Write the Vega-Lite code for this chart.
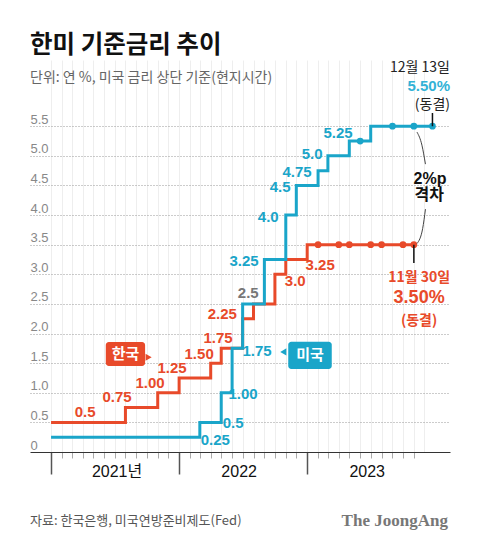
{
  "$schema": "https://vega.github.io/schema/vega-lite/v6.json",
  "width": 420,
  "height": 392,
  "autosize": {"type": "none"},
  "padding": {"left": 30, "top": 60, "right": 30, "bottom": 96},
  "background": "white",
  "config": {"view": {"stroke": null}},
  "title": {
    "text": "한미 기준금리 추이",
    "subtitle": "단위: 연 %, 미국 금리 상단 기준(현지시간)",
    "anchor": "start",
    "frame": "group",
    "font": "Noto Sans CJK KR",
    "fontSize": 24.5,
    "fontWeight": "bold",
    "color": "#111111",
    "subtitleFont": "Noto Sans CJK KR",
    "subtitleFontSize": 14,
    "subtitleColor": "#666666",
    "subtitlePadding": 13,
    "offset": -26
  },
  "datasets": {
    "rates": [
      {"s": "한국", "date": "2021/01/01", "v": 0.5, "hold": false},
      {"s": "한국", "date": "2021/08/01", "v": 0.75, "hold": false},
      {"s": "한국", "date": "2021/11/01", "v": 1.0, "hold": false},
      {"s": "한국", "date": "2022/01/01", "v": 1.25, "hold": false},
      {"s": "한국", "date": "2022/04/01", "v": 1.5, "hold": false},
      {"s": "한국", "date": "2022/05/01", "v": 1.75, "hold": false},
      {"s": "한국", "date": "2022/07/01", "v": 2.25, "hold": false},
      {"s": "한국", "date": "2022/08/01", "v": 2.5, "hold": false},
      {"s": "한국", "date": "2022/10/01", "v": 3.0, "hold": false},
      {"s": "한국", "date": "2022/11/01", "v": 3.25, "hold": false},
      {"s": "한국", "date": "2023/01/01", "v": 3.5, "hold": false},
      {"s": "한국", "date": "2023/02/01", "v": 3.5, "hold": true},
      {"s": "한국", "date": "2023/04/01", "v": 3.5, "hold": true},
      {"s": "한국", "date": "2023/05/01", "v": 3.5, "hold": true},
      {"s": "한국", "date": "2023/07/01", "v": 3.5, "hold": true},
      {"s": "한국", "date": "2023/08/01", "v": 3.5, "hold": true},
      {"s": "한국", "date": "2023/10/01", "v": 3.5, "hold": true},
      {"s": "한국", "date": "2023/11/01", "v": 3.5, "hold": true},
      {"s": "미국", "date": "2021/01/01", "v": 0.25, "hold": false},
      {"s": "미국", "date": "2022/03/01", "v": 0.5, "hold": false},
      {"s": "미국", "date": "2022/05/01", "v": 1.0, "hold": false},
      {"s": "미국", "date": "2022/06/01", "v": 1.75, "hold": false},
      {"s": "미국", "date": "2022/07/01", "v": 2.5, "hold": false},
      {"s": "미국", "date": "2022/09/01", "v": 3.25, "hold": false},
      {"s": "미국", "date": "2022/11/01", "v": 4.0, "hold": false},
      {"s": "미국", "date": "2022/12/01", "v": 4.5, "hold": false},
      {"s": "미국", "date": "2023/02/01", "v": 4.75, "hold": false},
      {"s": "미국", "date": "2023/03/01", "v": 5.0, "hold": false},
      {"s": "미국", "date": "2023/05/01", "v": 5.25, "hold": false},
      {"s": "미국", "date": "2023/06/01", "v": 5.25, "hold": true},
      {"s": "미국", "date": "2023/07/01", "v": 5.5, "hold": false},
      {"s": "미국", "date": "2023/09/01", "v": 5.5, "hold": true},
      {"s": "미국", "date": "2023/11/01", "v": 5.5, "hold": true},
      {"s": "미국", "date": "2023/12/24", "v": 5.5, "hold": true}
    ],
    "valueLabels": [
      {"s": "한국", "t": "0.5", "date": "2021/04/08", "v": 0.68},
      {"s": "한국", "t": "0.75", "date": "2021/07/08", "v": 0.93},
      {"s": "한국", "t": "1.00", "date": "2021/10/10", "v": 1.165},
      {"s": "한국", "t": "1.25", "date": "2021/12/12", "v": 1.418},
      {"s": "한국", "t": "1.50", "date": "2022/02/27", "v": 1.655},
      {"s": "한국", "t": "1.75", "date": "2022/04/22", "v": 1.925},
      {"s": "한국", "t": "2.25", "date": "2022/05/04", "v": 2.33},
      {"s": "한국", "t": "3.0", "date": "2022/11/28", "v": 2.887},
      {"s": "한국", "t": "3.25", "date": "2023/02/07", "v": 3.157},
      {"s": "공통", "t": "2.5", "date": "2022/07/17", "v": 2.684},
      {"s": "미국", "t": "0.25", "date": "2022/04/14", "v": 0.203},
      {"s": "미국", "t": "0.5", "date": "2022/06/04", "v": 0.49},
      {"s": "미국", "t": "1.00", "date": "2022/07/02", "v": 0.98},
      {"s": "미국", "t": "1.75", "date": "2022/08/11", "v": 1.705},
      {"s": "미국", "t": "3.25", "date": "2022/07/05", "v": 3.225},
      {"s": "미국", "t": "4.0", "date": "2022/09/12", "v": 3.968},
      {"s": "미국", "t": "4.5", "date": "2022/10/16", "v": 4.474},
      {"s": "미국", "t": "4.75", "date": "2022/12/03", "v": 4.727},
      {"s": "미국", "t": "5.0", "date": "2023/01/15", "v": 5.031},
      {"s": "미국", "t": "5.25", "date": "2023/03/30", "v": 5.386}
    ]
  },
  "encoding": {
    "x": {
      "field": "date",
      "type": "temporal",
      "scale": {"domain": [{"year": 2020, "month": 11, "date": 2}, {"year": 2024, "month": 2, "date": 12}]},
      "axis": {
        "title": null,
        "tickCount": {"interval": "month", "step": 1},
        "domainColor": "#333333",
        "domainWidth": 1,
        "tickColor": {"condition": {"test": "month(datum.value) == 0", "value": "#555555"}, "value": "#aaaaaa"},
        "tickSize": {"condition": {"test": "month(datum.value) == 0", "value": 22}, "value": 6},
        "tickWidth": {"condition": {"test": "month(datum.value) == 0", "value": 1.5}, "value": 1},
        "tickOpacity": {"condition": {"test": "datum.value < datetime(2021,0,1) || datum.value > datetime(2023,10,15)", "value": 0}, "value": 1},
        "grid": true,
        "gridColor": "#eeeeee",
        "gridOpacity": {"condition": {"test": "datum.value < datetime(2021,0,1) || datum.value > datetime(2023,11,15)", "value": 0}, "value": 1},
        "labelExpr": "month(datum.value) == 6 ? (year(datum.value) == 2021 ? '2021년' : '' + year(datum.value)) : ''",
        "labelFont": "Liberation Sans, Noto Sans CJK KR",
        "labelFontSize": 16,
        "labelColor": "#111111",
        "labelPadding": 5,
        "labelOffset": {"condition": {"test": "year(datum.value) == 2021", "value": 2}, "value": -4},
        "labelOverlap": false,
        "labelFlush": false,
        "labelBound": false
      }
    },
    "y": {
      "field": "v",
      "type": "quantitative",
      "scale": {"domain": [0, 6.618], "nice": false, "zero": false},
      "axis": {
        "title": null,
        "values": [0, 0.5, 1, 1.5, 2, 2.5, 3, 3.5, 4, 4.5, 5, 5.5],
        "domain": false,
        "ticks": false,
        "tickSize": 0,
        "labelAlign": "left",
        "labelBaseline": "alphabetic",
        "labelPadding": 0,
        "labelOffset": -3,
        "labelColor": "#888888",
        "labelFont": "Liberation Sans",
        "labelFontSize": 13,
        "labelExpr": "datum.value == 0 ? '0' : format(datum.value, '.1f')",
        "labelOverlap": false,
        "labelFlush": false,
        "grid": true,
        "gridDash": [1, 2],
        "gridColor": "#999999",
        "gridOpacity": {"condition": {"test": "datum.value == 0", "value": 0}, "value": 1}
      }
    }
  },
  "layer": [
    {
      "data": {"name": "rates"},
      "mark": {"type": "line", "interpolate": "step-after", "strokeWidth": 3},
      "encoding": {
        "color": {"field": "s", "type": "nominal", "scale": {"domain": ["한국", "미국", "공통"], "range": ["#e84a2a", "#1aa5c9", "#777777"]}, "legend": null}
      }
    },
    {
      "data": {"name": "rates"},
      "transform": [{"filter": "datum.hold"}],
      "mark": {"type": "point", "filled": true, "opacity": 1, "size": 45},
      "encoding": {
        "color": {"field": "s", "type": "nominal", "scale": {"domain": ["한국", "미국", "공통"], "range": ["#e84a2a", "#1aa5c9", "#777777"]}, "legend": null}
      }
    },
    {
      "data": {"name": "valueLabels"},
      "mark": {"type": "text", "font": "Liberation Sans", "fontSize": 15, "fontWeight": "bold", "align": "center", "baseline": "middle"},
      "encoding": {
        "text": {"field": "t"},
        "color": {"field": "s", "type": "nominal", "scale": {"domain": ["한국", "미국", "공통"], "range": ["#e84a2a", "#1aa5c9", "#777777"]}, "legend": null}
      }
    },
    {
      "data": {"values": [
        {"s": "한국", "date": "2021/06/06", "date2": "2021/09/26", "v": 1.452, "v2": 1.857},
        {"s": "미국", "date": "2022/11/08", "date2": "2023/03/12", "v": 1.401, "v2": 1.862}
      ]},
      "mark": {"type": "rect", "cornerRadius": 3},
      "encoding": {
        "x2": {"field": "date2"},
        "y2": {"field": "v2"},
        "color": {"field": "s", "type": "nominal", "scale": {"domain": ["한국", "미국", "공통"], "range": ["#e84a2a", "#1aa5c9", "#777777"]}, "legend": null}
      }
    },
    {
      "data": {"values": [
        {"s": "한국", "date": "2021/10/06", "v": 1.60}
      ]},
      "mark": {"type": "point", "shape": "triangle-right", "filled": true, "opacity": 1, "size": 50, "color": "#e84a2a"}
    },
    {
      "data": {"values": [
        {"s": "미국", "date": "2022/10/25", "v": 1.69}
      ]},
      "mark": {"type": "point", "shape": "triangle-left", "filled": true, "opacity": 1, "size": 50, "color": "#1aa5c9"}
    },
    {
      "data": {"values": [
        {"t": "한국", "date": "2021/08/01", "v": 1.655},
        {"t": "미국", "date": "2023/01/09", "v": 1.632}
      ]},
      "mark": {"type": "text", "font": "Noto Sans CJK KR", "fontSize": 15, "fontWeight": "bold", "color": "white", "align": "center", "baseline": "middle"},
      "encoding": {"text": {"field": "t"}}
    },
    {
      "data": {"values": [
        {"date": "2023/12/24", "v": 5.5, "v2": 5.723},
        {"date": "2023/11/01", "v": 3.5, "v2": 3.19}
      ]},
      "mark": {"type": "rule", "color": "#111111", "strokeWidth": 1.5},
      "encoding": {"y2": {"field": "v2"}}
    },
    {
      "data": {"values": [
        {"seg": "top", "date": "2023/11/10", "v": 5.40},
        {"seg": "top", "date": "2023/11/24", "v": 5.18},
        {"seg": "top", "date": "2023/12/04", "v": 4.86},
        {"seg": "bottom", "date": "2023/11/10", "v": 3.52},
        {"seg": "bottom", "date": "2023/11/26", "v": 3.77},
        {"seg": "bottom", "date": "2023/12/04", "v": 4.10}
      ]},
      "mark": {"type": "line", "interpolate": "monotone", "color": "#444444", "strokeWidth": 1},
      "encoding": {"detail": {"field": "seg"}}
    },
    {
      "data": {"values": [
        {"t": "12월 13일", "date": "2024/02/12", "v": 6.483},
        {"t": "(동결)", "date": "2024/02/12", "v": 5.86}
      ]},
      "mark": {"type": "text", "font": "Noto Sans CJK KR", "fontSize": 14, "color": "#222222", "align": "right", "baseline": "middle"},
      "encoding": {"text": {"field": "t"}}
    },
    {
      "data": {"values": [
        {"t": "5.50%", "date": "2024/02/12", "v": 6.18}
      ]},
      "mark": {"type": "text", "font": "Liberation Sans", "fontSize": 15, "fontWeight": "bold", "color": "#33b2d6", "align": "right", "baseline": "middle"},
      "encoding": {"text": {"field": "t"}}
    },
    {
      "data": {"values": [
        {"t": "2%p", "date": "2023/12/17", "v": 4.609},
        {"t": "격차", "date": "2023/12/15", "v": 4.339}
      ]},
      "mark": {"type": "text", "font": "Liberation Sans, Noto Sans CJK KR", "fontSize": 16, "fontWeight": "bold", "color": "#111111", "align": "center", "baseline": "middle"},
      "encoding": {"text": {"field": "t"}}
    },
    {
      "data": {"values": [
        {"t": "11월 30일", "date": "2023/11/16", "v": 2.935},
        {"t": "(동결)", "date": "2023/11/16", "v": 2.215}
      ]},
      "mark": {"type": "text", "font": "Noto Sans CJK KR", "fontSize": 14, "fontWeight": "bold", "color": "#e84a2a", "align": "center", "baseline": "middle"},
      "encoding": {"text": {"field": "t"}}
    },
    {
      "data": {"values": [
        {"t": "3.50%", "date": "2023/11/16", "v": 2.6}
      ]},
      "mark": {"type": "text", "font": "Liberation Sans", "fontSize": 18, "fontWeight": "bold", "color": "#e84a2a", "align": "center", "baseline": "middle"},
      "encoding": {"text": {"field": "t"}}
    },
    {
      "data": {"values": [
        {"t": "자료: 한국은행, 미국연방준비제도(Fed)", "date": "2020/11/02", "v": -1.165}
      ]},
      "mark": {"type": "text", "font": "Noto Sans CJK KR", "fontSize": 13, "color": "#555555", "align": "left", "baseline": "middle"},
      "encoding": {"text": {"field": "t"}}
    },
    {
      "data": {"values": [
        {"t": "The JoongAng", "date": "2024/02/06", "v": -1.165}
      ]},
      "mark": {"type": "text", "font": "Liberation Serif", "fontSize": 17, "fontWeight": "bold", "color": "#777777", "align": "right", "baseline": "middle"},
      "encoding": {"text": {"field": "t"}}
    }
  ]
}
